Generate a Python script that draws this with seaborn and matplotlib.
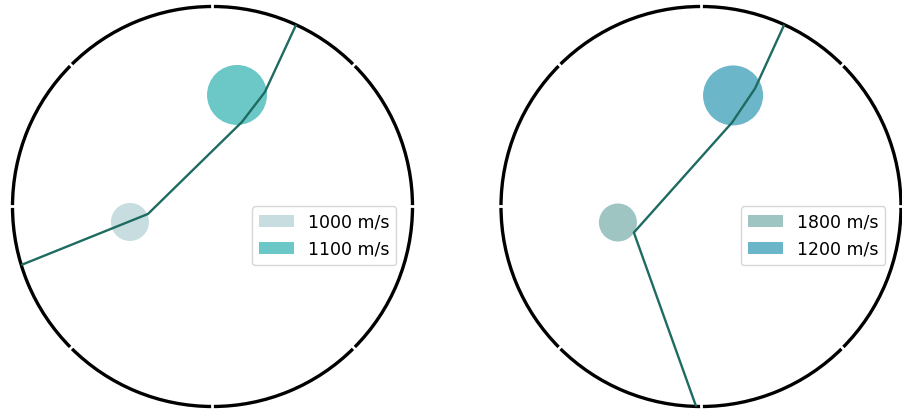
import numpy as np
import pandas as pd
import matplotlib
matplotlib.use("Agg")
import matplotlib.pyplot as plt
from matplotlib.patches import Patch
import seaborn as sns

# Ray paths (theta in degrees, r as fraction of the outer radius)
left_ray_theta = [197.0, 186.6, 70.8, 65.4, 65.3]
left_ray_r = [1.0, 0.325, 0.4475, 0.63, 1.0]
right_ray_theta = [268.6, 201.2, 69.7, 65.4, 65.4]
right_ray_r = [1.0, 0.36, 0.448, 0.649, 1.0]

# Velocity markers
left_pt_theta = [190.6, 77.6]
left_pt_r = [0.42, 0.571]
left_labels = ["1000 m/s", "1100 m/s"]
left_colors = ["#c8dde0", "#6cc8c7"]

right_pt_theta = [190.9, 73.9]
right_pt_r = [0.423, 0.578]
right_labels = ["1800 m/s", "1200 m/s"]
right_colors = ["#9fc5c2", "#6bb6c8"]

marker_sizes = [750, 1866]
ray_color = "#1e6b62"

sns.set_style("white")
plt.rcParams["text.color"] = "black"

fig = plt.figure(figsize=(9.03, 4.11), dpi=100)
W, H = 903, 411
ax_l = fig.add_axes([12.5 / W, 4.5 / H, 400 / W, 400 / H], projection="polar")
ax_r = fig.add_axes([501 / W, 4.5 / H, 400 / W, 400 / H], projection="polar")


def draw_panel(ax, ray_t, ray_r, pt_t, pt_r, labels, colors):
    pts = pd.DataFrame({"theta": np.deg2rad(pt_t), "r": pt_r, "label": labels})
    sns.scatterplot(data=pts, x="theta", y="r", hue="label", size="label",
                    palette=dict(zip(labels, colors)),
                    sizes=dict(zip(labels, marker_sizes)),
                    linewidth=0, legend=False, ax=ax, zorder=2)
    ray = pd.DataFrame({"theta": np.deg2rad(ray_t), "r": ray_r})
    sns.lineplot(data=ray, x="theta", y="r", sort=False, estimator=None,
                 color=ray_color, linewidth=1.7, ax=ax, zorder=3)
    ax.set_ylim(0, 1)
    ax.set_xlabel("")
    ax.set_ylabel("")
    ticks = np.deg2rad(np.arange(0, 360, 45))
    ax.set_xticks(ticks)
    ax.set_xticklabels([])
    ax.set_yticks([])
    ax.grid(False)
    ax.spines["polar"].set_linewidth(2.4)
    ax.spines["polar"].set_color("black")
    # small white notches in the outer ring at each theta tick
    ax.vlines(ticks, 0.975, 1.025, colors="white", linewidth=2.0,
              clip_on=False, zorder=5)
    ax.set_ylim(0, 1)
    handles = [Patch(facecolor=c, edgecolor="none", label=l)
               for l, c in zip(labels, colors)]
    ax.legend(handles=handles, loc="upper right", bbox_to_anchor=(0.96, 0.5),
              borderaxespad=0, fontsize=12.5, labelcolor="black")


draw_panel(ax_l, left_ray_theta, left_ray_r, left_pt_theta, left_pt_r,
           left_labels, left_colors)
draw_panel(ax_r, right_ray_theta, right_ray_r, right_pt_theta, right_pt_r,
           right_labels, right_colors)

fig.savefig("out.png", dpi=100)
